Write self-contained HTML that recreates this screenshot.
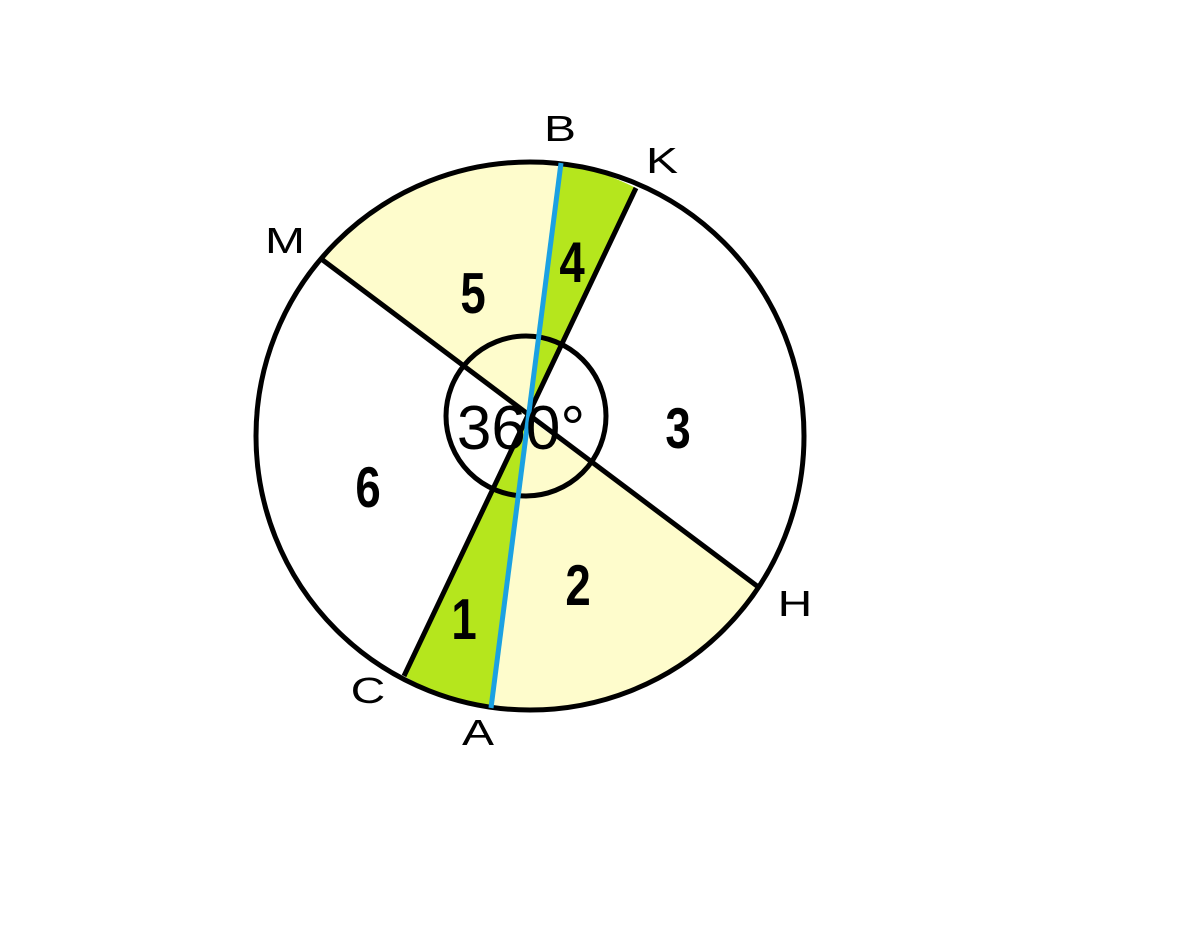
<!DOCTYPE html>
<html><head><meta charset="utf-8"><style>
html,body{margin:0;padding:0;background:#fff;}
</style></head><body>
<svg width="1200" height="945" viewBox="0 0 1200 945" xmlns="http://www.w3.org/2000/svg">
<rect width="1200" height="945" fill="#fff"/>
<path d="M528,418 L320,258 A274,274 0 0 1 561,163 Z" fill="#fefccc"/>
<path d="M528,418 L561,163 A274,274 0 0 1 636,188 Z" fill="#b5e61d"/>
<path d="M528,418 L757,586 A274,274 0 0 1 491,708 Z" fill="#fefccc"/>
<path d="M528,418 L491,708 A274,274 0 0 1 404,676 Z" fill="#b5e61d"/>
<circle cx="530" cy="436" r="274" fill="none" stroke="#000" stroke-width="5"/>
<circle cx="526" cy="416" r="80" fill="none" stroke="#000" stroke-width="5"/>
<line x1="320" y1="258" x2="757" y2="586" stroke="#000" stroke-width="5"/>
<line x1="636" y1="188" x2="404" y2="676" stroke="#000" stroke-width="5"/>
<line x1="561" y1="163" x2="491" y2="708" stroke="#1ba1e2" stroke-width="5"/>
<g font-family="Liberation Sans, sans-serif" font-weight="bold" font-size="48" text-anchor="middle">
<text transform="translate(473,313) scale(0.95,1.2)">5</text>
<text transform="translate(572,282) scale(0.95,1.2)">4</text>
<text transform="translate(678,448) scale(0.95,1.2)">3</text>
<text transform="translate(368,507) scale(0.95,1.2)">6</text>
<text transform="translate(578,605) scale(0.95,1.2)">2</text>
<text transform="translate(464,639) scale(0.95,1.2)">1</text>
</g>
<text x="521" y="449" font-family="Liberation Sans, sans-serif" font-size="62" text-anchor="middle">360°</text>
<g font-family="Liberation Sans, sans-serif" font-size="40" text-anchor="middle">
<text transform="translate(560,141) scale(1.2,0.9)">B</text>
<text transform="translate(662,173) scale(1.2,0.9)">K</text>
<text transform="translate(285,253) scale(1.2,0.9)">M</text>
<text transform="translate(795,616) scale(1.2,0.9)">H</text>
<text transform="translate(368,703) scale(1.2,0.9)">C</text>
<text transform="translate(478,745) scale(1.2,0.9)">A</text>
</g>
</svg>
</body></html>
